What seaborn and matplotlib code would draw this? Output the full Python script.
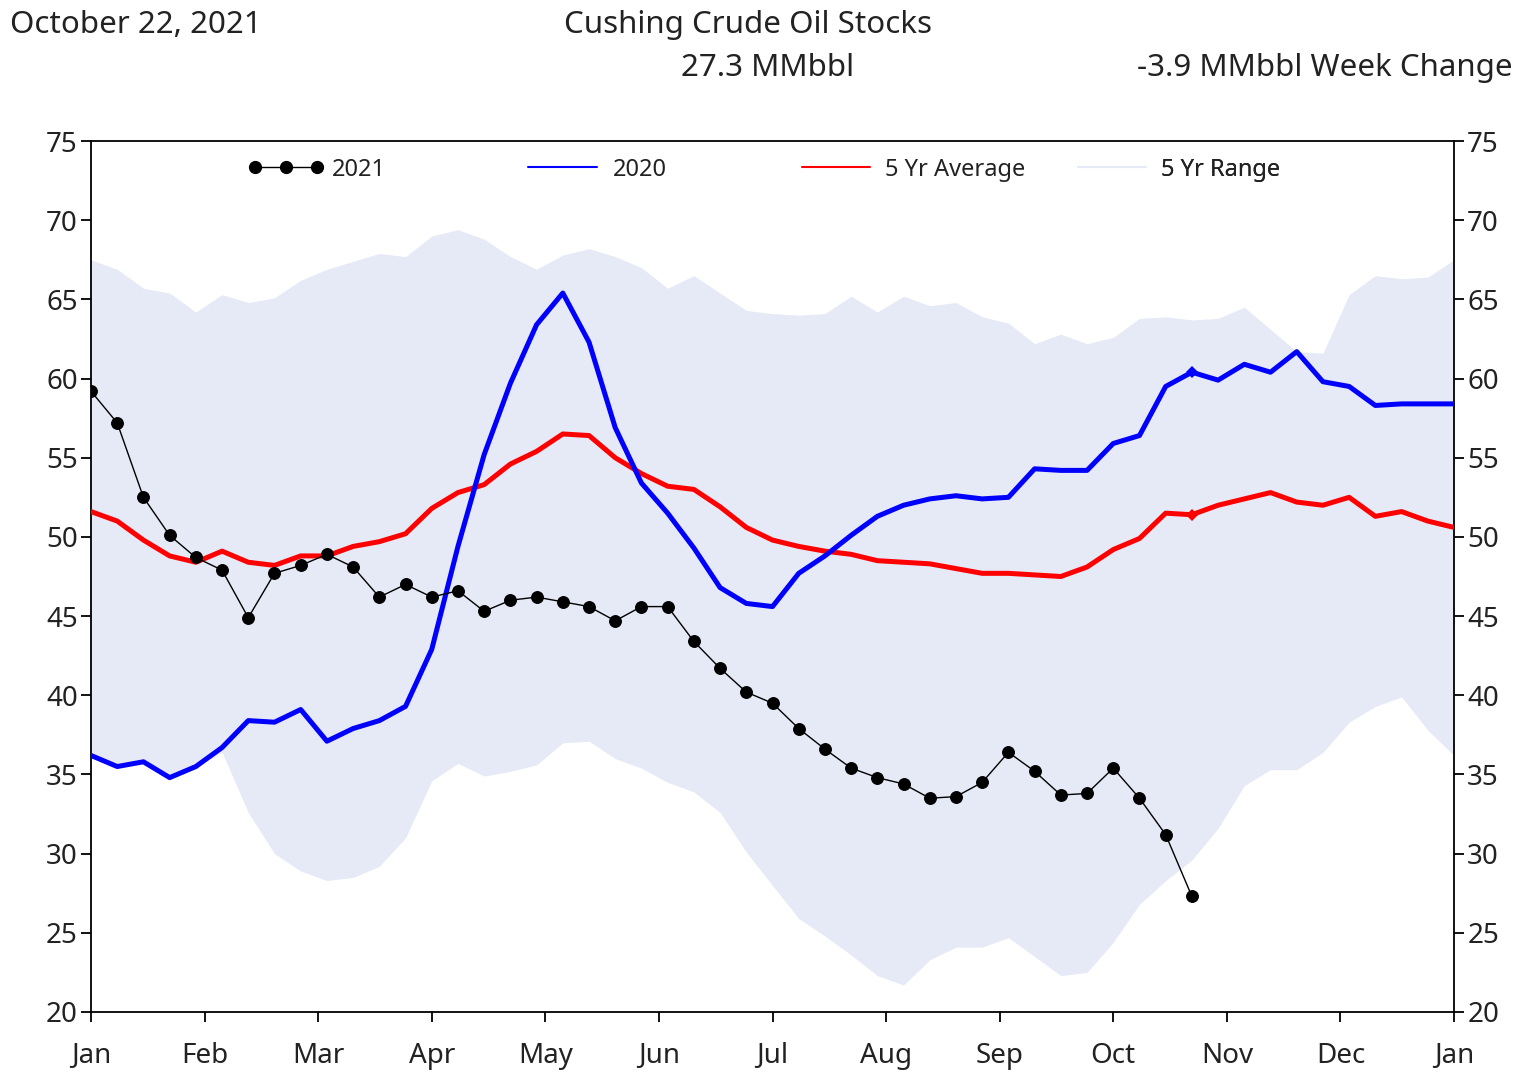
import numpy as np
import pandas as pd
import matplotlib.pyplot as plt
import seaborn as sns
from matplotlib.lines import Line2D

# weekly Cushing stocks, MMbbl (week 0 = first week of Jan)
stocks_2021 = [59.2, 57.2, 52.5, 50.1, 48.7, 47.9, 44.9, 47.7, 48.2, 48.9,
               48.1, 46.2, 47.0, 46.2, 46.6, 45.3, 46.0, 46.2, 45.9, 45.6,
               44.7, 45.6, 45.6, 43.4, 41.7, 40.2, 39.5, 37.9, 36.6, 35.4,
               34.8, 34.4, 33.5, 33.6, 34.5, 36.4, 35.2, 33.7, 33.8, 35.4,
               33.5, 31.2, 27.3]
stocks_2020 = [36.2, 35.5, 35.8, 34.8, 35.5, 36.7, 38.4, 38.3, 39.1, 37.1,
               37.9, 38.4, 39.3, 42.9, 49.4, 55.2, 59.7, 63.4, 65.4, 62.3,
               56.9, 53.4, 51.5, 49.3, 46.8, 45.8, 45.6, 47.7, 48.8, 50.1,
               51.3, 52.0, 52.4, 52.6, 52.4, 52.5, 54.3, 54.2, 54.2, 55.9,
               56.4, 59.5, 60.4, 59.9, 60.9, 60.4, 61.7, 59.8, 59.5, 58.3,
               58.4, 58.4, 58.4]
avg_5yr = [51.6, 51.0, 49.8, 48.8, 48.4, 49.1, 48.4, 48.2, 48.8, 48.8,
           49.4, 49.7, 50.2, 51.8, 52.8, 53.3, 54.6, 55.4, 56.5, 56.4,
           55.0, 54.0, 53.2, 53.0, 51.9, 50.6, 49.8, 49.4, 49.1, 48.9,
           48.5, 48.4, 48.3, 48.0, 47.7, 47.7, 47.6, 47.5, 48.1, 49.2,
           49.9, 51.5, 51.4, 52.0, 52.4, 52.8, 52.2, 52.0, 52.5, 51.3,
           51.6, 51.0, 50.6]
range_high = [67.5, 66.9, 65.7, 65.4, 64.2, 65.3, 64.8, 65.1, 66.2, 66.9,
              67.4, 67.9, 67.7, 69.0, 69.4, 68.8, 67.7, 66.9, 67.8, 68.2,
              67.7, 67.0, 65.7, 66.5, 65.4, 64.3, 64.1, 64.0, 64.1, 65.2,
              64.2, 65.2, 64.6, 64.8, 63.9, 63.5, 62.2, 62.8, 62.2, 62.6,
              63.8, 63.9, 63.7, 63.8, 64.5, 63.1, 61.7, 61.6, 65.3, 66.5,
              66.3, 66.4, 67.5]
range_low = [36.2, 35.5, 35.8, 34.8, 35.5, 36.4, 32.6, 30.0, 28.9, 28.3,
             28.5, 29.2, 31.0, 34.6, 35.7, 34.9, 35.2, 35.6, 37.0, 37.1,
             36.0, 35.4, 34.5, 33.9, 32.6, 30.1, 28.0, 25.9, 24.8, 23.6,
             22.3, 21.7, 23.3, 24.1, 24.1, 24.7, 23.5, 22.3, 22.5, 24.4,
             26.8, 28.3, 29.6, 31.6, 34.3, 35.3, 35.3, 36.4, 38.3, 39.3,
             39.9, 37.8, 36.2]
month_labels = ['Jan', 'Feb', 'Mar', 'Apr', 'May', 'Jun', 'Jul',
                'Aug', 'Sep', 'Oct', 'Nov', 'Dec', 'Jan']

# x axis in month units: week n -> n * 12 / 52
full = pd.DataFrame({'week': np.arange(len(stocks_2020))})
full['x'] = full['week'] * 12 / 52
full['y2020'] = stocks_2020
full['avg'] = avg_5yr
full['low'] = range_low
full['high'] = range_high
cur = pd.DataFrame({'week': np.arange(len(stocks_2021))})
cur['x'] = cur['week'] * 12 / 52
cur['y2021'] = stocks_2021
this_week = len(stocks_2021) - 1

sns.set_style('ticks')
plt.rcParams['font.family'] = ['Noto Sans', 'DejaVu Sans']

fill_color = '#e6e9f6'
text_color = '#222222'

fig = plt.figure(figsize=(15.28, 10.77), dpi=100)
ax = fig.add_axes([91 / 1528, 1 - 1012 / 1077, 1363 / 1528, 871 / 1077])

ax.fill_between(full['x'], full['low'], full['high'], color=fill_color, linewidth=0, zorder=1)
sns.lineplot(data=full, x='x', y='avg', ax=ax, color='#ff0000', linewidth=3.6, zorder=3,
             marker='D', markersize=6, markevery=[this_week], markeredgewidth=0)
sns.lineplot(data=full, x='x', y='y2020', ax=ax, color='#0000ff', linewidth=3.6, zorder=4,
             marker='D', markersize=6, markevery=[this_week], markeredgewidth=0)
sns.lineplot(data=cur, x='x', y='y2021', ax=ax, color='black', linewidth=1.0,
             marker='o', markersize=8.5, markeredgecolor='black', zorder=5)

ax.set_xlim(0, 12)
ax.set_ylim(20, 75)
ax.set_xticks(range(13))
ax.set_xticklabels(month_labels)
ax.set_yticks(range(20, 80, 5))
ax.set_xlabel('')
ax.set_ylabel('')
ax.tick_params(axis='both', direction='out', length=7.5, width=1.3, labelsize=20,
               colors='black', labelcolor=text_color)
ax.tick_params(axis='x', pad=14)
ax.tick_params(axis='y', right=True, labelright=True, pad=2)
for s in ax.spines.values():
    s.set_visible(True)
    s.set_linewidth(1.3)
    s.set_color('black')

# legend: four single entries spread across the top of the axes
handles = [
    (Line2D([], [], color='black', linewidth=1.0, marker='o', markersize=8.5), '2021', 0.115, 3.23),
    (Line2D([], [], color='#0000ff', linewidth=1.5), '2020', 0.3155, 3.52),
    (Line2D([], [], color='#ff0000', linewidth=1.5), '5 Yr Average', 0.5165, 3.48),
    (Line2D([], [], color=fill_color, linewidth=1.5), '5 Yr Range', 0.719, 3.48),
]
for h, lab, xpos, hl in handles:
    leg = ax.legend([h], [lab], loc='center left', bbox_to_anchor=(xpos, 0.967),
                    frameon=False, borderpad=0, borderaxespad=0, numpoints=3,
                    handlelength=hl, handletextpad=0.35, fontsize=17,
                    labelcolor=text_color)
    ax.add_artist(leg)

fig.text(10 / 1528, 1 - 25 / 1077, 'October 22, 2021', fontsize=22.5, color=text_color, va='center')
fig.text(748 / 1528, 1 - 25 / 1077, 'Cushing Crude Oil Stocks', fontsize=22.5, color=text_color,
         ha='center', va='center')
fig.text(768 / 1528, 1 - 68 / 1077, '27.3 MMbbl', fontsize=22.5, color=text_color,
         ha='center', va='center')
fig.text(1513 / 1528, 1 - 68 / 1077, '-3.9 MMbbl Week Change', fontsize=22.5, color=text_color,
         ha='right', va='center')

fig.savefig('out.png', dpi=100)
